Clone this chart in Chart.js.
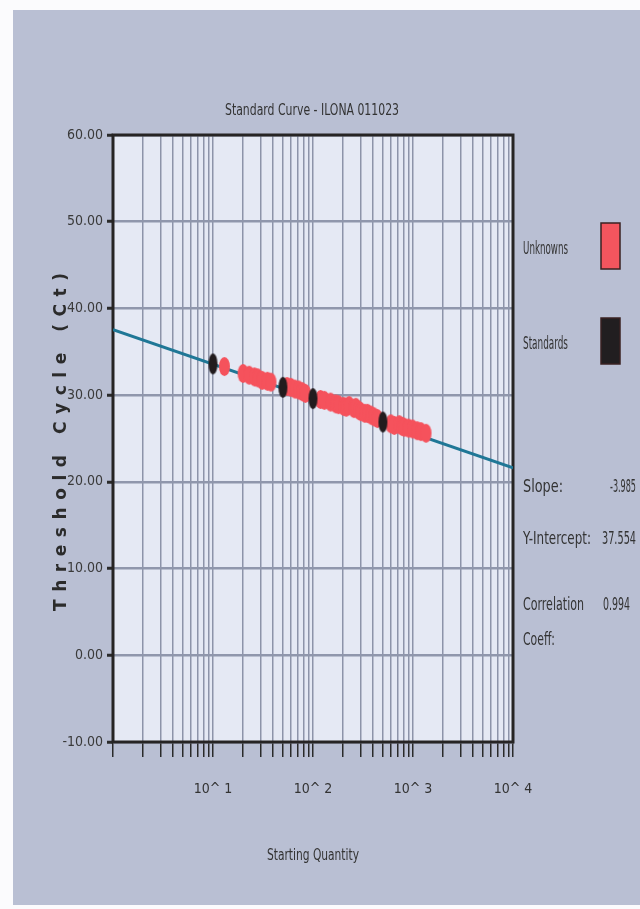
<!DOCTYPE html>
<html>
<head>
<meta charset="utf-8">
<title>Standard Curve - ILONA 011023</title>
<script src="https://cdn.jsdelivr.net/npm/chart.js@4.4.1/dist/chart.umd.min.js"></script>
<style>
  html, body { margin: 0; padding: 0; background: #fff; }
  #wrap { width: 640px; height: 909px; }
</style>
</head>
<body>
<div id="wrap"><canvas id="curve-chart"></canvas></div>
<script>
const chartTitle = 'Standard Curve - ILONA 011023';
const xTitle = 'Starting Quantity';
const yTitle = 'Threshold Cycle (Ct)';

// standards (black marks)
const standardQty = [10, 50, 100, 500];
const standardCt = [33.6, 30.9, 29.6, 26.9];

// unknowns (red marks)
const unknownQty = [13, 20, 23, 26, 28, 31, 35, 38, 55, 60, 66, 72, 78, 84, 119, 130, 150, 169, 180, 203, 215, 230, 257, 268, 285, 300, 330, 351, 380, 408, 440, 600, 650, 728, 780, 817, 900, 990, 1100, 1200, 1350];
const unknownCt = [33.3, 32.5, 32.3, 32.1, 32.0, 31.7, 31.6, 31.5, 31.0, 30.9, 30.7, 30.6, 30.4, 30.2, 29.5, 29.4, 29.2, 29.0, 28.9, 28.7, 28.6, 28.8, 28.45, 28.6, 28.3, 28.1, 27.9, 27.9, 27.7, 27.5, 27.3, 26.7, 26.5, 26.6, 26.4, 26.3, 26.2, 26.1, 25.9, 25.8, 25.6];

// fitted line, read at both ends of the axis
const fitQty = [1, 10000];
const fitCt = [37.55, 21.61];

const xTickLabels = { 10: '10^ 1', 100: '10^ 2', 1000: '10^ 3', 10000: '10^ 4' };
const xDecades = [1, 10, 100, 1000];

const legendNames = ['Unknowns', 'Standards'];
const legendColors = ['#f4555e', '#211e20'];

const statNames = ['Slope:', 'Y-Intercept:', 'Correlation'];
const statValues = ['-3.985', '37.554', '0.994'];

const narrow = "'DejaVu Sans Condensed', 'Liberation Sans', sans-serif";

function ovalMark(w, h, fill) {
  const c = document.createElement('canvas');
  c.width = w + 2;
  c.height = h + 2;
  const g = c.getContext('2d');
  g.beginPath();
  g.ellipse(c.width / 2, c.height / 2, w / 2, h / 2, 0, 0, Math.PI * 2);
  g.fillStyle = fill;
  g.fill();
  return c;
}

function pairs(xs, ys) {
  return xs.map((x, i) => ({ x: x, y: ys[i] }));
}

const decor = {
  id: 'decor',
  beforeDraw(chart) {
    const { ctx, chartArea: a, width, height } = chart;
    ctx.save();
    ctx.fillStyle = '#fbfbfd';
    ctx.fillRect(0, 0, width, height);
    ctx.fillStyle = '#b9bfd3';
    ctx.fillRect(13, 10, width - 13, height - 14);
    ctx.fillStyle = '#e5e9f4';
    ctx.fillRect(a.left, a.top, a.right - a.left, a.bottom - a.top);
    ctx.restore();
  },
  beforeDatasetsDraw(chart) {
    const { ctx, chartArea: a } = chart;
    ctx.save();
    ctx.strokeStyle = '#262424';
    ctx.lineWidth = 3;
    ctx.strokeRect(a.left, a.top, a.right - a.left, a.bottom - a.top);
    ctx.restore();
  },
  afterDraw(chart) {
    const { ctx } = chart;
    ctx.save();
    ctx.fillStyle = '#333';
    ctx.textBaseline = 'middle';

    // title and x axis title
    ctx.font = '16px ' + narrow;
    ctx.textAlign = 'center';
    ctx.fillText(chartTitle, 312, 111, 174);
    ctx.fillText(xTitle, 313, 856, 92);

    // y axis title, spaced out
    ctx.save();
    ctx.translate(62, 442);
    ctx.rotate(-Math.PI / 2);
    ctx.font = "bold 17px 'DejaVu Sans', sans-serif";
    const plain = ctx.measureText(yTitle).width;
    const gap = (338 - plain) / (yTitle.length - 1);
    ctx.letterSpacing = gap + 'px';
    ctx.textAlign = 'left';
    ctx.fillStyle = '#2b2b2b';
    ctx.fillText(yTitle, -169, 0);
    ctx.restore();

    // legend
    ctx.textAlign = 'left';
    ctx.font = '17px ' + narrow;
    const legendY = [250, 345];
    legendNames.forEach((name, i) => {
      ctx.fillStyle = '#333';
      ctx.fillText(name, 523, legendY[i], 45);
      ctx.fillStyle = legendColors[i];
      ctx.fillRect(601, legendY[i] - 27, 19, 46);
      ctx.strokeStyle = '#3a2222';
      ctx.lineWidth = 1.5;
      ctx.strokeRect(601, legendY[i] - 27, 19, 46);
    });

    // fit statistics
    ctx.font = '17px ' + narrow;
    ctx.fillStyle = '#333';
    const statY = [488, 540, 606];
    const nameW = [40, 68, 61];
    const valueX = [610, 602, 603];
    const valueW = [26, 34, 27];
    statNames.forEach((name, i) => {
      ctx.fillText(name, 523, statY[i], nameW[i]);
      ctx.fillText(statValues[i], valueX[i], statY[i], valueW[i]);
    });
    ctx.fillText('Coeff:', 523, 641, 32);
    ctx.restore();
  }
};

const config = {
  type: 'scatter',
  data: {
    datasets: [
      {
        label: 'Standards',
        data: pairs(standardQty, standardCt),
        pointStyle: ovalMark(9, 21, '#221c1e'),
        order: 0
      },
      {
        label: 'Unknowns',
        data: pairs(unknownQty, unknownCt),
        pointStyle: ovalMark(11, 19, '#f5525c'),
        order: 1
      },
      {
        label: 'Fit',
        data: pairs(fitQty, fitCt),
        showLine: true,
        borderColor: '#1f7796',
        borderWidth: 3,
        pointRadius: 0,
        order: 2
      }
    ]
  },
  options: {
    responsive: true,
    maintainAspectRatio: false,
    animation: false,
    layout: { padding: { top: 135, right: 127, bottom: 0, left: 0 } },
    plugins: {
      legend: { display: false },
      tooltip: { enabled: false }
    },
    scales: {
      x: {
        type: 'logarithmic',
        min: 1,
        max: 10000,
        afterFit(scale) { scale.height = 167; },
        afterBuildTicks(scale) {
          const vals = [];
          xDecades.forEach((d) => {
            for (let m = 1; m < 10; m++) vals.push(m * d);
          });
          vals.push(10000);
          scale.ticks = vals.map((v) => ({ value: v }));
        },
        border: { display: false },
        grid: {
          color: '#8d94a9',
          lineWidth: 1.5,
          tickLength: 15,
          tickColor: '#2a2a2a',
          tickWidth: 1.5
        },
        ticks: {
          autoSkip: false,
          maxRotation: 0,
          padding: 24,
          color: '#333',
          font: { size: 14, family: narrow },
          callback: (v) => xTickLabels[v] || ''
        }
      },
      y: {
        min: -10,
        max: 60,
        afterFit(scale) { scale.width = 113; },
        border: { display: false },
        grid: {
          color: '#9097ac',
          lineWidth: 2.5,
          tickLength: 6,
          tickColor: '#2a2a2a',
          tickWidth: 3
        },
        ticks: {
          stepSize: 10,
          padding: 4,
          color: '#3a3a3a',
          font: { size: 14, family: narrow },
          callback: (v) => v.toFixed(2)
        }
      }
    }
  },
  plugins: [decor]
};

const curveChart = new Chart(document.getElementById('curve-chart'), config);
</script>
</body>
</html>
